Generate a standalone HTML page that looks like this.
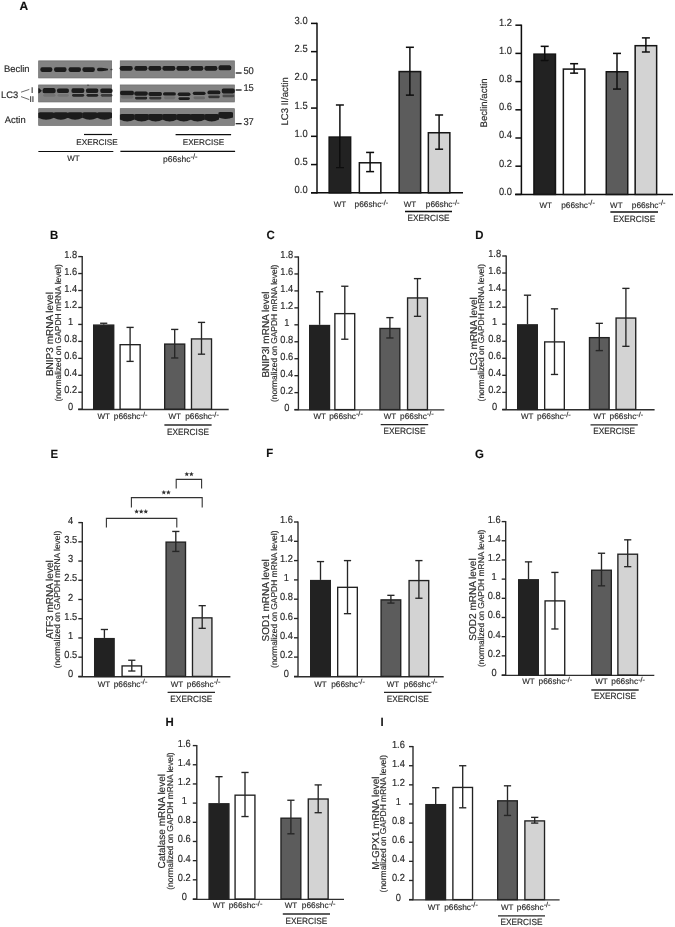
<!DOCTYPE html>
<html><head><meta charset="utf-8">
<style>
html,body{margin:0;padding:0;background:#fff;}
body{width:675px;height:927px;overflow:hidden;}
svg{display:block;}
text{font-family:"Liberation Sans", sans-serif;stroke:#333;stroke-width:0.16px;text-rendering:geometricPrecision;}
</style></head>
<body>
<svg width="675" height="927" viewBox="0 0 675 927">
<defs>
<filter id="bl" x="-10%" y="-50%" width="120%" height="200%"><feGaussianBlur stdDeviation="0.7"/></filter>
<filter id="soft"><feGaussianBlur stdDeviation="0.35"/></filter>
</defs>
<rect x="0" y="0" width="675" height="927" fill="#fff"/>
<g filter="url(#soft)">
<rect x="38.65" y="60.85" width="73" height="17.1" fill="#838383" stroke="#6c6c6c" stroke-width="0.7"/>
<rect x="120.25" y="60.85" width="114.1" height="17.1" fill="#838383" stroke="#6c6c6c" stroke-width="0.7"/>
<rect x="38.65" y="84.95" width="73" height="17" fill="#838383" stroke="#6c6c6c" stroke-width="0.7"/>
<rect x="120.25" y="84.95" width="114.1" height="17" fill="#838383" stroke="#6c6c6c" stroke-width="0.7"/>
<rect x="38.65" y="108.65" width="73" height="16.8" fill="#838383" stroke="#6c6c6c" stroke-width="0.7"/>
<rect x="120.25" y="108.65" width="114.1" height="16.8" fill="#838383" stroke="#6c6c6c" stroke-width="0.7"/>
<g filter="url(#bl)">
<rect x="40.3" y="67.3" width="12.1" height="4.6" rx="1.8" ry="2.3" fill="#1c1c1c" opacity="1"/>
<rect x="54" y="67.3" width="12.6" height="4.6" rx="1.8" ry="2.3" fill="#1c1c1c" opacity="1"/>
<rect x="68.5" y="67.3" width="12.5" height="4.6" rx="1.8" ry="2.3" fill="#1c1c1c" opacity="1"/>
<rect x="82.4" y="67.3" width="12.5" height="4.6" rx="1.8" ry="2.3" fill="#1c1c1c" opacity="1"/>
<path d="M97.0,69.5 C97.0,67.2 100,67.3 108,68.7 L108,70.3 C100,71.8 97.0,71.8 97.0,69.5 Z" fill="#1c1c1c"/>
<rect x="110.2" y="68.8" width="2.4" height="1.4" rx="0.7" ry="0.7" fill="#1c1c1c" opacity="0.6"/>
<rect x="119.7" y="65.95" width="13" height="4.7" rx="1.8" ry="2.35" fill="#1c1c1c" opacity="1"/>
<rect x="134.4" y="65.95" width="13" height="4.7" rx="1.8" ry="2.35" fill="#1c1c1c" opacity="1"/>
<rect x="148.4" y="65.95" width="13" height="4.7" rx="1.8" ry="2.35" fill="#1c1c1c" opacity="1"/>
<rect x="162.4" y="65.95" width="13" height="4.7" rx="1.8" ry="2.35" fill="#1c1c1c" opacity="1"/>
<rect x="176.4" y="65.95" width="13" height="4.7" rx="1.8" ry="2.35" fill="#1c1c1c" opacity="1"/>
<rect x="190.4" y="65.95" width="13" height="4.7" rx="1.8" ry="2.35" fill="#1c1c1c" opacity="1"/>
<rect x="204.4" y="65.95" width="13" height="4.7" rx="1.8" ry="2.35" fill="#1c1c1c" opacity="1"/>
<rect x="218.4" y="65.3" width="13" height="5" rx="1.8" ry="2.5" fill="#1c1c1c" opacity="1"/>
<path d="M38.3,88.3 L39.6,88.6 L41.8,90.8 L39.6,93 L38.3,93.3 Z" fill="#1c1c1c"/>
<rect x="42.5" y="88.1" width="13.2" height="5.2" rx="1.8" ry="2.6" fill="#1c1c1c" opacity="1"/>
<rect x="43.1" y="93.9" width="12.4" height="2.8" rx="1.4" ry="1.4" fill="#1c1c1c" opacity="0.12"/>
<rect x="56.9" y="88.5" width="12.1" height="4.4" rx="1.8" ry="2.2" fill="#1c1c1c" opacity="1"/>
<rect x="57.5" y="93.9" width="11.3" height="2.8" rx="1.4" ry="1.4" fill="#1c1c1c" opacity="0.12"/>
<rect x="71.4" y="88.3" width="13" height="4.8" rx="1.8" ry="2.4" fill="#1c1c1c" opacity="1"/>
<rect x="72" y="93.9" width="12.2" height="2.8" rx="1.4" ry="1.4" fill="#1c1c1c" opacity="0.92"/>
<rect x="85.9" y="88.4" width="12.5" height="4.6" rx="1.8" ry="2.3" fill="#1c1c1c" opacity="1"/>
<rect x="86.5" y="93.9" width="11.7" height="2.8" rx="1.4" ry="1.4" fill="#1c1c1c" opacity="0.95"/>
<rect x="100.2" y="88.4" width="12.4" height="4.6" rx="1.8" ry="2.3" fill="#1c1c1c" opacity="1"/>
<rect x="100.8" y="93.9" width="11.6" height="2.8" rx="1.4" ry="1.4" fill="#1c1c1c" opacity="0.7"/>
<rect x="87" y="84.8" width="2.2" height="0.8" rx="0.4" ry="0.4" fill="#1c1c1c" opacity="0.8"/>
<rect x="120" y="90.8" width="14" height="4.4" rx="1.8" ry="2.2" fill="#1c1c1c" opacity="1"/>
<rect x="120.8" y="95.7" width="12.6" height="2.8" rx="1.4" ry="1.4" fill="#1c1c1c" opacity="0.2"/>
<rect x="134.2" y="91.5" width="13.6" height="4.2" rx="1.8" ry="2.1" fill="#1c1c1c" opacity="1"/>
<rect x="135" y="96.7" width="12.2" height="2.8" rx="1.4" ry="1.4" fill="#1c1c1c" opacity="0.9"/>
<rect x="148.4" y="91.9" width="13.6" height="4" rx="1.8" ry="2" fill="#1c1c1c" opacity="1"/>
<rect x="149.2" y="96.7" width="12.2" height="2.8" rx="1.4" ry="1.4" fill="#1c1c1c" opacity="0.75"/>
<rect x="163" y="92.2" width="12.9" height="3.4" rx="1.7" ry="1.7" fill="#1c1c1c" opacity="1"/>
<rect x="163.8" y="96.4" width="11.5" height="2.8" rx="1.4" ry="1.4" fill="#1c1c1c" opacity="0.2"/>
<rect x="177.7" y="92.5" width="12.8" height="3.4" rx="1.7" ry="1.7" fill="#1c1c1c" opacity="1"/>
<rect x="178.5" y="97.2" width="11.4" height="2.8" rx="1.4" ry="1.4" fill="#1c1c1c" opacity="1"/>
<rect x="192.8" y="91.7" width="12.8" height="3.2" rx="1.6" ry="1.6" fill="#1c1c1c" opacity="1"/>
<rect x="193.6" y="96.4" width="11.4" height="2.8" rx="1.4" ry="1.4" fill="#1c1c1c" opacity="0.25"/>
<rect x="207.4" y="90.45" width="13" height="3.9" rx="1.8" ry="1.95" fill="#1c1c1c" opacity="1"/>
<rect x="208.2" y="95.4" width="11.6" height="2.8" rx="1.4" ry="1.4" fill="#1c1c1c" opacity="0.75"/>
<rect x="221.6" y="88.6" width="13.3" height="4.8" rx="1.8" ry="2.4" fill="#1c1c1c" opacity="1"/>
<rect x="222.4" y="94.5" width="11.9" height="2.8" rx="1.4" ry="1.4" fill="#1c1c1c" opacity="0.5"/>
<path d="M38.3,113 Q38.6,112.2 40.3,112.2 L52,112.2 Q53.7,112.2 54,113 L54,117.8 Q46.15,121.8 38.3,117.8 Z" fill="#1c1c1c"/>
<path d="M53.7,113 Q54,112.2 55.7,112.2 L66,112.2 Q67.7,112.2 68,113 L68,117.8 Q60.85,121.8 53.7,117.8 Z" fill="#1c1c1c"/>
<path d="M67.7,113 Q68,112.2 69.7,112.2 L80.6,112.2 Q82.3,112.2 82.6,113 L82.6,117.8 Q75.15,121.8 67.7,117.8 Z" fill="#1c1c1c"/>
<path d="M82.3,113 Q82.6,112.2 84.3,112.2 L95.3,112.2 Q97,112.2 97.3,113 L97.3,117.8 Q89.8,121.8 82.3,117.8 Z" fill="#1c1c1c"/>
<path d="M97,113 Q97.3,112.2 99,112.2 L110,112.2 Q111.7,112.2 112,113 L112,117.8 Q104.5,121.8 97,117.8 Z" fill="#1c1c1c"/>
<path d="M119.9,114.8 Q120.2,114 121.9,114 L132.5,114 Q134.2,114 134.5,114.8 L134.5,119.6 Q127.2,123.6 119.9,119.6 Z" fill="#1c1c1c"/>
<path d="M134.3,114.8 Q134.6,114 136.3,114 L146.9,114 Q148.6,114 148.9,114.8 L148.9,119.6 Q141.6,123.6 134.3,119.6 Z" fill="#1c1c1c"/>
<path d="M148.3,114.8 Q148.6,114 150.3,114 L160.9,114 Q162.6,114 162.9,114.8 L162.9,119.6 Q155.6,123.6 148.3,119.6 Z" fill="#1c1c1c"/>
<path d="M162.3,114.8 Q162.6,114 164.3,114 L174.9,114 Q176.6,114 176.9,114.8 L176.9,119.6 Q169.6,123.6 162.3,119.6 Z" fill="#1c1c1c"/>
<path d="M176.5,114.8 Q176.8,114 178.5,114 L189.1,114 Q190.8,114 191.1,114.8 L191.1,119.6 Q183.8,123.6 176.5,119.6 Z" fill="#1c1c1c"/>
<path d="M190.3,114.8 Q190.6,114 192.3,114 L202.9,114 Q204.6,114 204.9,114.8 L204.9,119.6 Q197.6,123.6 190.3,119.6 Z" fill="#1c1c1c"/>
<path d="M204.4,114.8 Q204.7,114 206.4,114 L217,114 Q218.7,114 219,114.8 L219,119.6 Q211.7,123.6 204.4,119.6 Z" fill="#1c1c1c"/>
<path d="M218.4,112.8 Q218.7,112 220.4,112 L231,112 Q232.7,112 233,112.8 L233,117.6 Q225.7,120.4 218.4,117.6 Z" fill="#1c1c1c"/>
</g>
<text x="4" y="72.4" font-size="9.4" text-anchor="start" font-weight="normal" fill="#262626">Beclin</text>
<text x="1" y="98" font-size="9.4" text-anchor="start" font-weight="normal" fill="#262626">LC3</text>
<text x="4.8" y="123" font-size="9.4" text-anchor="start" font-weight="normal" fill="#262626">Actin</text>
<text x="31.1" y="93" font-size="8.4" text-anchor="start" font-weight="normal" fill="#262626">I</text>
<text x="29.5" y="101.6" font-size="8.4" text-anchor="start" font-weight="normal" fill="#262626">II</text>
<line x1="21" y1="92.2" x2="29.3" y2="89.4" stroke="#444" stroke-width="0.8"/>
<line x1="21" y1="96.6" x2="29.3" y2="99.6" stroke="#444" stroke-width="0.8"/>
<line x1="235.7" y1="73" x2="241.6" y2="73" stroke="#0a0a0a" stroke-width="1.2"/>
<text transform="translate(243.4,74.4) scale(1,1.05)" font-size="9.4" text-anchor="start" font-weight="normal" fill="#262626">50</text>
<line x1="235.7" y1="90" x2="241.6" y2="90" stroke="#0a0a0a" stroke-width="1.2"/>
<text transform="translate(243.4,91.2) scale(1,1.05)" font-size="9.4" text-anchor="start" font-weight="normal" fill="#262626">15</text>
<line x1="235.7" y1="123.7" x2="241.6" y2="123.7" stroke="#0a0a0a" stroke-width="1.2"/>
<text transform="translate(243.4,124.6) scale(1,1.05)" font-size="9.4" text-anchor="start" font-weight="normal" fill="#262626">37</text>
<line x1="84" y1="134.5" x2="112" y2="134.5" stroke="#0a0a0a" stroke-width="1.2"/>
<text x="97" y="144.6" font-size="8.2" text-anchor="middle" font-weight="normal" fill="#262626">EXERCISE</text>
<line x1="175.6" y1="134.6" x2="231.1" y2="134.6" stroke="#0a0a0a" stroke-width="1.2"/>
<text x="203.4" y="144.6" font-size="8.2" text-anchor="middle" font-weight="normal" fill="#262626">EXERCISE</text>
<line x1="38.4" y1="151.5" x2="113.3" y2="151.5" stroke="#0a0a0a" stroke-width="1.2"/>
<text x="73.5" y="161.2" font-size="8" text-anchor="middle" font-weight="normal" fill="#262626">WT</text>
<line x1="120.4" y1="151.3" x2="235.1" y2="151.3" stroke="#0a0a0a" stroke-width="1.2"/>
<text x="180.3" y="161.6" font-size="8.5" text-anchor="middle" fill="#262626">p66shc<tspan font-size="7.48" dy="-2.63">-/-</tspan></text>
<line x1="317" y1="22.8" x2="317" y2="193.4" stroke="#0a0a0a" stroke-width="1.5"/>
<line x1="311" y1="192.8" x2="463" y2="192.8" stroke="#0a0a0a" stroke-width="1.5"/>
<line x1="311" y1="192.8" x2="317" y2="192.8" stroke="#0a0a0a" stroke-width="1.5"/>
<text transform="translate(301.1,193.2) scale(1,1.1)" font-size="9.4" text-anchor="middle" font-weight="normal" fill="#262626">0.0</text>
<line x1="311" y1="164.57" x2="317" y2="164.57" stroke="#0a0a0a" stroke-width="1.5"/>
<text transform="translate(301.1,164.97) scale(1,1.1)" font-size="9.4" text-anchor="middle" font-weight="normal" fill="#262626">0.5</text>
<line x1="311" y1="136.33" x2="317" y2="136.33" stroke="#0a0a0a" stroke-width="1.5"/>
<text transform="translate(301.1,136.73) scale(1,1.1)" font-size="9.4" text-anchor="middle" font-weight="normal" fill="#262626">1.0</text>
<line x1="311" y1="108.1" x2="317" y2="108.1" stroke="#0a0a0a" stroke-width="1.5"/>
<text transform="translate(301.1,108.5) scale(1,1.1)" font-size="9.4" text-anchor="middle" font-weight="normal" fill="#262626">1.5</text>
<line x1="311" y1="79.87" x2="317" y2="79.87" stroke="#0a0a0a" stroke-width="1.5"/>
<text transform="translate(301.1,80.27) scale(1,1.1)" font-size="9.4" text-anchor="middle" font-weight="normal" fill="#262626">2.0</text>
<line x1="311" y1="51.63" x2="317" y2="51.63" stroke="#0a0a0a" stroke-width="1.5"/>
<text transform="translate(301.1,52.03) scale(1,1.1)" font-size="9.4" text-anchor="middle" font-weight="normal" fill="#262626">2.5</text>
<line x1="311" y1="23.4" x2="317" y2="23.4" stroke="#0a0a0a" stroke-width="1.5"/>
<text transform="translate(301.1,23.8) scale(1,1.1)" font-size="9.4" text-anchor="middle" font-weight="normal" fill="#262626">3.0</text>
<rect x="329.15" y="137.08" width="21.5" height="55.72" fill="#242424" stroke="#121212" stroke-width="1.5"/>
<rect x="359.35" y="162.78" width="21.5" height="30.02" fill="#ffffff" stroke="#121212" stroke-width="1.5"/>
<rect x="399.15" y="71.58" width="21.5" height="121.22" fill="#5b5b5b" stroke="#121212" stroke-width="1.5"/>
<rect x="428.35" y="132.74" width="21.5" height="60.06" fill="#d3d3d3" stroke="#121212" stroke-width="1.5"/>
<line x1="339.9" y1="104.99" x2="339.9" y2="167.62" stroke="#0e0e0e" stroke-width="1.5"/>
<line x1="335.9" y1="104.99" x2="343.9" y2="104.99" stroke="#0e0e0e" stroke-width="1.5"/>
<line x1="335.9" y1="167.62" x2="343.9" y2="167.62" stroke="#0e0e0e" stroke-width="1.5"/>
<line x1="370.1" y1="152.43" x2="370.1" y2="171.62" stroke="#0e0e0e" stroke-width="1.5"/>
<line x1="366.1" y1="152.43" x2="374.1" y2="152.43" stroke="#0e0e0e" stroke-width="1.5"/>
<line x1="366.1" y1="171.62" x2="374.1" y2="171.62" stroke="#0e0e0e" stroke-width="1.5"/>
<line x1="409.9" y1="47.29" x2="409.9" y2="95.11" stroke="#0e0e0e" stroke-width="1.5"/>
<line x1="405.9" y1="47.29" x2="413.9" y2="47.29" stroke="#0e0e0e" stroke-width="1.5"/>
<line x1="405.9" y1="95.11" x2="413.9" y2="95.11" stroke="#0e0e0e" stroke-width="1.5"/>
<line x1="439.1" y1="114.99" x2="439.1" y2="149.21" stroke="#0e0e0e" stroke-width="1.5"/>
<line x1="435.1" y1="114.99" x2="443.1" y2="114.99" stroke="#0e0e0e" stroke-width="1.5"/>
<line x1="435.1" y1="149.21" x2="443.1" y2="149.21" stroke="#0e0e0e" stroke-width="1.5"/>
<text x="339.9" y="207.4" font-size="8" text-anchor="middle" font-weight="normal" fill="#262626">WT</text>
<text x="371.4" y="207.4" font-size="8.3" text-anchor="middle" fill="#262626">p66shc<tspan font-size="7.3" dy="-2.57">-/-</tspan></text>
<text x="409.9" y="207.4" font-size="8" text-anchor="middle" font-weight="normal" fill="#262626">WT</text>
<text x="442.6" y="207.4" font-size="8.3" text-anchor="middle" fill="#262626">p66shc<tspan font-size="7.3" dy="-2.57">-/-</tspan></text>
<line x1="405" y1="211.4" x2="452" y2="211.4" stroke="#0a0a0a" stroke-width="1.5"/>
<text transform="translate(428.5,221.2) scale(1,1.08)" font-size="8.3" text-anchor="middle" font-weight="normal" fill="#262626">EXERCISE</text>
<line x1="521.4" y1="24.6" x2="521.4" y2="195" stroke="#0a0a0a" stroke-width="1.5"/>
<line x1="515" y1="194.4" x2="673" y2="194.4" stroke="#0a0a0a" stroke-width="1.5"/>
<line x1="515.4" y1="194.4" x2="521.4" y2="194.4" stroke="#0a0a0a" stroke-width="1.5"/>
<text transform="translate(505.4,194.8) scale(1,1.1)" font-size="9.4" text-anchor="middle" font-weight="normal" fill="#262626">0.0</text>
<line x1="515.4" y1="166.2" x2="521.4" y2="166.2" stroke="#0a0a0a" stroke-width="1.5"/>
<text transform="translate(505.4,166.6) scale(1,1.1)" font-size="9.4" text-anchor="middle" font-weight="normal" fill="#262626">0.2</text>
<line x1="515.4" y1="138" x2="521.4" y2="138" stroke="#0a0a0a" stroke-width="1.5"/>
<text transform="translate(505.4,138.4) scale(1,1.1)" font-size="9.4" text-anchor="middle" font-weight="normal" fill="#262626">0.4</text>
<line x1="515.4" y1="109.8" x2="521.4" y2="109.8" stroke="#0a0a0a" stroke-width="1.5"/>
<text transform="translate(505.4,110.2) scale(1,1.1)" font-size="9.4" text-anchor="middle" font-weight="normal" fill="#262626">0.6</text>
<line x1="515.4" y1="81.6" x2="521.4" y2="81.6" stroke="#0a0a0a" stroke-width="1.5"/>
<text transform="translate(505.4,82) scale(1,1.1)" font-size="9.4" text-anchor="middle" font-weight="normal" fill="#262626">0.8</text>
<line x1="515.4" y1="53.4" x2="521.4" y2="53.4" stroke="#0a0a0a" stroke-width="1.5"/>
<text transform="translate(505.4,53.8) scale(1,1.1)" font-size="9.4" text-anchor="middle" font-weight="normal" fill="#262626">1.0</text>
<line x1="515.4" y1="25.2" x2="521.4" y2="25.2" stroke="#0a0a0a" stroke-width="1.5"/>
<text transform="translate(505.4,25.6) scale(1,1.1)" font-size="9.4" text-anchor="middle" font-weight="normal" fill="#262626">1.2</text>
<rect x="533.95" y="54.15" width="21.5" height="140.25" fill="#242424" stroke="#121212" stroke-width="1.5"/>
<rect x="563.35" y="69.1" width="21.5" height="125.3" fill="#ffffff" stroke="#121212" stroke-width="1.5"/>
<rect x="606.25" y="71.78" width="21.5" height="122.62" fill="#5b5b5b" stroke="#121212" stroke-width="1.5"/>
<rect x="635.15" y="45.69" width="21.5" height="148.71" fill="#d3d3d3" stroke="#121212" stroke-width="1.5"/>
<line x1="544.7" y1="46.35" x2="544.7" y2="60.45" stroke="#0e0e0e" stroke-width="1.5"/>
<line x1="540.7" y1="46.35" x2="548.7" y2="46.35" stroke="#0e0e0e" stroke-width="1.5"/>
<line x1="540.7" y1="60.45" x2="548.7" y2="60.45" stroke="#0e0e0e" stroke-width="1.5"/>
<line x1="574.1" y1="63.69" x2="574.1" y2="73.14" stroke="#0e0e0e" stroke-width="1.5"/>
<line x1="570.1" y1="63.69" x2="578.1" y2="63.69" stroke="#0e0e0e" stroke-width="1.5"/>
<line x1="570.1" y1="73.14" x2="578.1" y2="73.14" stroke="#0e0e0e" stroke-width="1.5"/>
<line x1="617" y1="53.4" x2="617" y2="89.07" stroke="#0e0e0e" stroke-width="1.5"/>
<line x1="613" y1="53.4" x2="621" y2="53.4" stroke="#0e0e0e" stroke-width="1.5"/>
<line x1="613" y1="89.07" x2="621" y2="89.07" stroke="#0e0e0e" stroke-width="1.5"/>
<line x1="645.9" y1="37.89" x2="645.9" y2="51.99" stroke="#0e0e0e" stroke-width="1.5"/>
<line x1="641.9" y1="37.89" x2="649.9" y2="37.89" stroke="#0e0e0e" stroke-width="1.5"/>
<line x1="641.9" y1="51.99" x2="649.9" y2="51.99" stroke="#0e0e0e" stroke-width="1.5"/>
<text x="545.6" y="208" font-size="8" text-anchor="middle" font-weight="normal" fill="#262626">WT</text>
<text x="578" y="208" font-size="8.3" text-anchor="middle" fill="#262626">p66shc<tspan font-size="7.3" dy="-2.57">-/-</tspan></text>
<text x="616.3" y="208" font-size="8" text-anchor="middle" font-weight="normal" fill="#262626">WT</text>
<text x="648.6" y="208" font-size="8.3" text-anchor="middle" fill="#262626">p66shc<tspan font-size="7.3" dy="-2.57">-/-</tspan></text>
<line x1="610.4" y1="212" x2="658" y2="212" stroke="#0a0a0a" stroke-width="1.5"/>
<text transform="translate(634.2,221.6) scale(1,1.08)" font-size="8.3" text-anchor="middle" font-weight="normal" fill="#262626">EXERCISE</text>
<line x1="82.2" y1="256" x2="82.2" y2="409.8" stroke="#262626" stroke-width="1.35"/>
<line x1="78.2" y1="409.5" x2="228.7" y2="409.5" stroke="#2e2e2e" stroke-width="1.35"/>
<line x1="78.2" y1="409.2" x2="82.2" y2="409.2" stroke="#262626" stroke-width="1.35"/>
<text transform="translate(70.6,410.2) scale(1,1.1)" font-size="9.3" text-anchor="middle" font-weight="normal" fill="#262626">0</text>
<line x1="78.2" y1="392.24" x2="82.2" y2="392.24" stroke="#262626" stroke-width="1.35"/>
<text transform="translate(70.6,393.24) scale(1,1.1)" font-size="9.3" text-anchor="middle" font-weight="normal" fill="#262626">0.2</text>
<line x1="78.2" y1="375.29" x2="82.2" y2="375.29" stroke="#262626" stroke-width="1.35"/>
<text transform="translate(70.6,376.29) scale(1,1.1)" font-size="9.3" text-anchor="middle" font-weight="normal" fill="#262626">0.4</text>
<line x1="78.2" y1="358.33" x2="82.2" y2="358.33" stroke="#262626" stroke-width="1.35"/>
<text transform="translate(70.6,359.33) scale(1,1.1)" font-size="9.3" text-anchor="middle" font-weight="normal" fill="#262626">0.6</text>
<line x1="78.2" y1="341.38" x2="82.2" y2="341.38" stroke="#262626" stroke-width="1.35"/>
<text transform="translate(70.6,342.38) scale(1,1.1)" font-size="9.3" text-anchor="middle" font-weight="normal" fill="#262626">0.8</text>
<line x1="78.2" y1="324.42" x2="82.2" y2="324.42" stroke="#262626" stroke-width="1.35"/>
<text transform="translate(70.6,325.42) scale(1,1.1)" font-size="9.3" text-anchor="middle" font-weight="normal" fill="#262626">1</text>
<line x1="78.2" y1="307.47" x2="82.2" y2="307.47" stroke="#262626" stroke-width="1.35"/>
<text transform="translate(70.6,308.47) scale(1,1.1)" font-size="9.3" text-anchor="middle" font-weight="normal" fill="#262626">1.2</text>
<line x1="78.2" y1="290.51" x2="82.2" y2="290.51" stroke="#262626" stroke-width="1.35"/>
<text transform="translate(70.6,291.51) scale(1,1.1)" font-size="9.3" text-anchor="middle" font-weight="normal" fill="#262626">1.4</text>
<line x1="78.2" y1="273.56" x2="82.2" y2="273.56" stroke="#262626" stroke-width="1.35"/>
<text transform="translate(70.6,274.56) scale(1,1.1)" font-size="9.3" text-anchor="middle" font-weight="normal" fill="#262626">1.6</text>
<line x1="78.2" y1="256.6" x2="82.2" y2="256.6" stroke="#262626" stroke-width="1.35"/>
<text transform="translate(70.6,257.6) scale(1,1.1)" font-size="9.3" text-anchor="middle" font-weight="normal" fill="#262626">1.8</text>
<rect x="93.67" y="325.1" width="20.05" height="84.1" fill="#242424" stroke="#202020" stroke-width="1.35"/>
<rect x="120.08" y="344.68" width="20.05" height="64.52" fill="#ffffff" stroke="#202020" stroke-width="1.35"/>
<rect x="164.68" y="344.09" width="20.05" height="65.11" fill="#5b5b5b" stroke="#202020" stroke-width="1.35"/>
<rect x="191.48" y="338.92" width="20.05" height="70.28" fill="#d3d3d3" stroke="#202020" stroke-width="1.35"/>
<line x1="103.7" y1="323.24" x2="103.7" y2="324.42" stroke="#262626" stroke-width="1.35"/>
<line x1="100.1" y1="323.24" x2="107.3" y2="323.24" stroke="#262626" stroke-width="1.35"/>
<line x1="130.1" y1="327.39" x2="130.1" y2="361.39" stroke="#262626" stroke-width="1.35"/>
<line x1="126.5" y1="327.39" x2="133.7" y2="327.39" stroke="#262626" stroke-width="1.35"/>
<line x1="126.5" y1="361.39" x2="133.7" y2="361.39" stroke="#262626" stroke-width="1.35"/>
<line x1="174.7" y1="329.42" x2="174.7" y2="357.99" stroke="#262626" stroke-width="1.35"/>
<line x1="171.1" y1="329.42" x2="178.3" y2="329.42" stroke="#262626" stroke-width="1.35"/>
<line x1="171.1" y1="357.99" x2="178.3" y2="357.99" stroke="#262626" stroke-width="1.35"/>
<line x1="201.5" y1="322.39" x2="201.5" y2="354.18" stroke="#262626" stroke-width="1.35"/>
<line x1="197.9" y1="322.39" x2="205.1" y2="322.39" stroke="#262626" stroke-width="1.35"/>
<line x1="197.9" y1="354.18" x2="205.1" y2="354.18" stroke="#262626" stroke-width="1.35"/>
<text x="103.7" y="419.4" font-size="8" text-anchor="middle" font-weight="normal" fill="#262626">WT</text>
<text x="130.6" y="419.4" font-size="8.3" text-anchor="middle" fill="#262626">p66shc<tspan font-size="7.3" dy="-2.57">-/-</tspan></text>
<text x="174.7" y="419.4" font-size="8" text-anchor="middle" font-weight="normal" fill="#262626">WT</text>
<text x="202" y="419.4" font-size="8.3" text-anchor="middle" fill="#262626">p66shc<tspan font-size="7.3" dy="-2.57">-/-</tspan></text>
<line x1="164.4" y1="425" x2="211.6" y2="425" stroke="#262626" stroke-width="1.35"/>
<text transform="translate(188,434.6) scale(1,1.08)" font-size="8.3" text-anchor="middle" font-weight="normal" fill="#262626">EXERCISE</text>
<line x1="298.4" y1="256.4" x2="298.4" y2="410.2" stroke="#262626" stroke-width="1.35"/>
<line x1="294.4" y1="409.9" x2="444.3" y2="409.9" stroke="#2e2e2e" stroke-width="1.35"/>
<line x1="294.4" y1="409.6" x2="298.4" y2="409.6" stroke="#262626" stroke-width="1.35"/>
<text transform="translate(286.8,410.6) scale(1,1.1)" font-size="9.3" text-anchor="middle" font-weight="normal" fill="#262626">0</text>
<line x1="294.4" y1="392.64" x2="298.4" y2="392.64" stroke="#262626" stroke-width="1.35"/>
<text transform="translate(286.8,393.64) scale(1,1.1)" font-size="9.3" text-anchor="middle" font-weight="normal" fill="#262626">0.2</text>
<line x1="294.4" y1="375.69" x2="298.4" y2="375.69" stroke="#262626" stroke-width="1.35"/>
<text transform="translate(286.8,376.69) scale(1,1.1)" font-size="9.3" text-anchor="middle" font-weight="normal" fill="#262626">0.4</text>
<line x1="294.4" y1="358.73" x2="298.4" y2="358.73" stroke="#262626" stroke-width="1.35"/>
<text transform="translate(286.8,359.73) scale(1,1.1)" font-size="9.3" text-anchor="middle" font-weight="normal" fill="#262626">0.6</text>
<line x1="294.4" y1="341.78" x2="298.4" y2="341.78" stroke="#262626" stroke-width="1.35"/>
<text transform="translate(286.8,342.78) scale(1,1.1)" font-size="9.3" text-anchor="middle" font-weight="normal" fill="#262626">0.8</text>
<line x1="294.4" y1="324.82" x2="298.4" y2="324.82" stroke="#262626" stroke-width="1.35"/>
<text transform="translate(286.8,325.82) scale(1,1.1)" font-size="9.3" text-anchor="middle" font-weight="normal" fill="#262626">1</text>
<line x1="294.4" y1="307.87" x2="298.4" y2="307.87" stroke="#262626" stroke-width="1.35"/>
<text transform="translate(286.8,308.87) scale(1,1.1)" font-size="9.3" text-anchor="middle" font-weight="normal" fill="#262626">1.2</text>
<line x1="294.4" y1="290.91" x2="298.4" y2="290.91" stroke="#262626" stroke-width="1.35"/>
<text transform="translate(286.8,291.91) scale(1,1.1)" font-size="9.3" text-anchor="middle" font-weight="normal" fill="#262626">1.4</text>
<line x1="294.4" y1="273.96" x2="298.4" y2="273.96" stroke="#262626" stroke-width="1.35"/>
<text transform="translate(286.8,274.96) scale(1,1.1)" font-size="9.3" text-anchor="middle" font-weight="normal" fill="#262626">1.6</text>
<line x1="294.4" y1="257" x2="298.4" y2="257" stroke="#262626" stroke-width="1.35"/>
<text transform="translate(286.8,258) scale(1,1.1)" font-size="9.3" text-anchor="middle" font-weight="normal" fill="#262626">1.8</text>
<rect x="309.68" y="325.5" width="19.85" height="84.1" fill="#242424" stroke="#202020" stroke-width="1.35"/>
<rect x="334.88" y="313.63" width="19.85" height="95.97" fill="#ffffff" stroke="#202020" stroke-width="1.35"/>
<rect x="379.98" y="328.46" width="19.85" height="81.14" fill="#5b5b5b" stroke="#202020" stroke-width="1.35"/>
<rect x="407.57" y="297.94" width="19.85" height="111.66" fill="#d3d3d3" stroke="#202020" stroke-width="1.35"/>
<line x1="319.6" y1="291.76" x2="319.6" y2="324.82" stroke="#262626" stroke-width="1.35"/>
<line x1="316" y1="291.76" x2="323.2" y2="291.76" stroke="#262626" stroke-width="1.35"/>
<line x1="344.8" y1="286.25" x2="344.8" y2="339.23" stroke="#262626" stroke-width="1.35"/>
<line x1="341.2" y1="286.25" x2="348.4" y2="286.25" stroke="#262626" stroke-width="1.35"/>
<line x1="341.2" y1="339.23" x2="348.4" y2="339.23" stroke="#262626" stroke-width="1.35"/>
<line x1="389.9" y1="317.62" x2="389.9" y2="337.96" stroke="#262626" stroke-width="1.35"/>
<line x1="386.3" y1="317.62" x2="393.5" y2="317.62" stroke="#262626" stroke-width="1.35"/>
<line x1="386.3" y1="337.96" x2="393.5" y2="337.96" stroke="#262626" stroke-width="1.35"/>
<line x1="417.5" y1="278.62" x2="417.5" y2="316.34" stroke="#262626" stroke-width="1.35"/>
<line x1="413.9" y1="278.62" x2="421.1" y2="278.62" stroke="#262626" stroke-width="1.35"/>
<line x1="413.9" y1="316.34" x2="421.1" y2="316.34" stroke="#262626" stroke-width="1.35"/>
<text x="319.6" y="418.8" font-size="8" text-anchor="middle" font-weight="normal" fill="#262626">WT</text>
<text x="346" y="418.8" font-size="8.3" text-anchor="middle" fill="#262626">p66shc<tspan font-size="7.3" dy="-2.57">-/-</tspan></text>
<text x="389.9" y="418.8" font-size="8" text-anchor="middle" font-weight="normal" fill="#262626">WT</text>
<text x="416.9" y="418.8" font-size="8.3" text-anchor="middle" fill="#262626">p66shc<tspan font-size="7.3" dy="-2.57">-/-</tspan></text>
<line x1="380.7" y1="424.6" x2="428.2" y2="424.6" stroke="#262626" stroke-width="1.35"/>
<text transform="translate(404.45,434.4) scale(1,1.08)" font-size="8.3" text-anchor="middle" font-weight="normal" fill="#262626">EXERCISE</text>
<line x1="506.2" y1="255.4" x2="506.2" y2="410" stroke="#262626" stroke-width="1.35"/>
<line x1="502.2" y1="409.7" x2="654.6" y2="409.7" stroke="#2e2e2e" stroke-width="1.35"/>
<line x1="502.2" y1="409.4" x2="506.2" y2="409.4" stroke="#262626" stroke-width="1.35"/>
<text transform="translate(494.6,410.4) scale(1,1.1)" font-size="9.3" text-anchor="middle" font-weight="normal" fill="#262626">0</text>
<line x1="502.2" y1="392.36" x2="506.2" y2="392.36" stroke="#262626" stroke-width="1.35"/>
<text transform="translate(494.6,393.36) scale(1,1.1)" font-size="9.3" text-anchor="middle" font-weight="normal" fill="#262626">0.2</text>
<line x1="502.2" y1="375.31" x2="506.2" y2="375.31" stroke="#262626" stroke-width="1.35"/>
<text transform="translate(494.6,376.31) scale(1,1.1)" font-size="9.3" text-anchor="middle" font-weight="normal" fill="#262626">0.4</text>
<line x1="502.2" y1="358.27" x2="506.2" y2="358.27" stroke="#262626" stroke-width="1.35"/>
<text transform="translate(494.6,359.27) scale(1,1.1)" font-size="9.3" text-anchor="middle" font-weight="normal" fill="#262626">0.6</text>
<line x1="502.2" y1="341.22" x2="506.2" y2="341.22" stroke="#262626" stroke-width="1.35"/>
<text transform="translate(494.6,342.22) scale(1,1.1)" font-size="9.3" text-anchor="middle" font-weight="normal" fill="#262626">0.8</text>
<line x1="502.2" y1="324.18" x2="506.2" y2="324.18" stroke="#262626" stroke-width="1.35"/>
<text transform="translate(494.6,325.18) scale(1,1.1)" font-size="9.3" text-anchor="middle" font-weight="normal" fill="#262626">1</text>
<line x1="502.2" y1="307.13" x2="506.2" y2="307.13" stroke="#262626" stroke-width="1.35"/>
<text transform="translate(494.6,308.13) scale(1,1.1)" font-size="9.3" text-anchor="middle" font-weight="normal" fill="#262626">1.2</text>
<line x1="502.2" y1="290.09" x2="506.2" y2="290.09" stroke="#262626" stroke-width="1.35"/>
<text transform="translate(494.6,291.09) scale(1,1.1)" font-size="9.3" text-anchor="middle" font-weight="normal" fill="#262626">1.4</text>
<line x1="502.2" y1="273.04" x2="506.2" y2="273.04" stroke="#262626" stroke-width="1.35"/>
<text transform="translate(494.6,274.04) scale(1,1.1)" font-size="9.3" text-anchor="middle" font-weight="normal" fill="#262626">1.6</text>
<line x1="502.2" y1="256" x2="506.2" y2="256" stroke="#262626" stroke-width="1.35"/>
<text transform="translate(494.6,257) scale(1,1.1)" font-size="9.3" text-anchor="middle" font-weight="normal" fill="#262626">1.8</text>
<rect x="517.67" y="324.85" width="19.65" height="84.55" fill="#242424" stroke="#202020" stroke-width="1.35"/>
<rect x="544.67" y="341.9" width="19.65" height="67.5" fill="#ffffff" stroke="#202020" stroke-width="1.35"/>
<rect x="589.47" y="337.64" width="19.65" height="71.76" fill="#5b5b5b" stroke="#202020" stroke-width="1.35"/>
<rect x="616.07" y="318.04" width="19.65" height="91.36" fill="#d3d3d3" stroke="#202020" stroke-width="1.35"/>
<line x1="527.5" y1="295.2" x2="527.5" y2="324.18" stroke="#262626" stroke-width="1.35"/>
<line x1="523.9" y1="295.2" x2="531.1" y2="295.2" stroke="#262626" stroke-width="1.35"/>
<line x1="554.5" y1="308.84" x2="554.5" y2="374.46" stroke="#262626" stroke-width="1.35"/>
<line x1="550.9" y1="308.84" x2="558.1" y2="308.84" stroke="#262626" stroke-width="1.35"/>
<line x1="550.9" y1="374.46" x2="558.1" y2="374.46" stroke="#262626" stroke-width="1.35"/>
<line x1="599.3" y1="323.33" x2="599.3" y2="350.6" stroke="#262626" stroke-width="1.35"/>
<line x1="595.7" y1="323.33" x2="602.9" y2="323.33" stroke="#262626" stroke-width="1.35"/>
<line x1="595.7" y1="350.6" x2="602.9" y2="350.6" stroke="#262626" stroke-width="1.35"/>
<line x1="625.9" y1="288.38" x2="625.9" y2="346.34" stroke="#262626" stroke-width="1.35"/>
<line x1="622.3" y1="288.38" x2="629.5" y2="288.38" stroke="#262626" stroke-width="1.35"/>
<line x1="622.3" y1="346.34" x2="629.5" y2="346.34" stroke="#262626" stroke-width="1.35"/>
<text x="527.2" y="419.4" font-size="8" text-anchor="middle" font-weight="normal" fill="#262626">WT</text>
<text x="553.9" y="419.4" font-size="8.3" text-anchor="middle" fill="#262626">p66shc<tspan font-size="7.3" dy="-2.57">-/-</tspan></text>
<text x="599.6" y="419.4" font-size="8" text-anchor="middle" font-weight="normal" fill="#262626">WT</text>
<text x="626.4" y="419.4" font-size="8.3" text-anchor="middle" fill="#262626">p66shc<tspan font-size="7.3" dy="-2.57">-/-</tspan></text>
<line x1="590.5" y1="424.8" x2="637.8" y2="424.8" stroke="#262626" stroke-width="1.35"/>
<text transform="translate(614.15,434.2) scale(1,1.08)" font-size="8.3" text-anchor="middle" font-weight="normal" fill="#262626">EXERCISE</text>
<line x1="82.3" y1="522" x2="82.3" y2="677" stroke="#262626" stroke-width="1.35"/>
<line x1="78.3" y1="676.7" x2="230.4" y2="676.7" stroke="#2e2e2e" stroke-width="1.35"/>
<line x1="78.3" y1="676.4" x2="82.3" y2="676.4" stroke="#262626" stroke-width="1.35"/>
<text transform="translate(70.7,677.4) scale(1,1.1)" font-size="9.3" text-anchor="middle" font-weight="normal" fill="#262626">0</text>
<line x1="78.3" y1="657.17" x2="82.3" y2="657.17" stroke="#262626" stroke-width="1.35"/>
<text transform="translate(70.7,658.17) scale(1,1.1)" font-size="9.3" text-anchor="middle" font-weight="normal" fill="#262626">0.5</text>
<line x1="78.3" y1="637.95" x2="82.3" y2="637.95" stroke="#262626" stroke-width="1.35"/>
<text transform="translate(70.7,638.95) scale(1,1.1)" font-size="9.3" text-anchor="middle" font-weight="normal" fill="#262626">1</text>
<line x1="78.3" y1="618.73" x2="82.3" y2="618.73" stroke="#262626" stroke-width="1.35"/>
<text transform="translate(70.7,619.73) scale(1,1.1)" font-size="9.3" text-anchor="middle" font-weight="normal" fill="#262626">1.5</text>
<line x1="78.3" y1="599.5" x2="82.3" y2="599.5" stroke="#262626" stroke-width="1.35"/>
<text transform="translate(70.7,600.5) scale(1,1.1)" font-size="9.3" text-anchor="middle" font-weight="normal" fill="#262626">2</text>
<line x1="78.3" y1="580.27" x2="82.3" y2="580.27" stroke="#262626" stroke-width="1.35"/>
<text transform="translate(70.7,581.27) scale(1,1.1)" font-size="9.3" text-anchor="middle" font-weight="normal" fill="#262626">2.5</text>
<line x1="78.3" y1="561.05" x2="82.3" y2="561.05" stroke="#262626" stroke-width="1.35"/>
<text transform="translate(70.7,562.05) scale(1,1.1)" font-size="9.3" text-anchor="middle" font-weight="normal" fill="#262626">3</text>
<line x1="78.3" y1="541.83" x2="82.3" y2="541.83" stroke="#262626" stroke-width="1.35"/>
<text transform="translate(70.7,542.83) scale(1,1.1)" font-size="9.3" text-anchor="middle" font-weight="normal" fill="#262626">3.5</text>
<line x1="78.3" y1="522.6" x2="82.3" y2="522.6" stroke="#262626" stroke-width="1.35"/>
<text transform="translate(70.7,523.6) scale(1,1.1)" font-size="9.3" text-anchor="middle" font-weight="normal" fill="#262626">4</text>
<rect x="94.67" y="638.62" width="19.45" height="37.77" fill="#242424" stroke="#202020" stroke-width="1.35"/>
<rect x="122.08" y="665.92" width="19.45" height="10.48" fill="#ffffff" stroke="#202020" stroke-width="1.35"/>
<rect x="166.08" y="542.12" width="19.45" height="134.28" fill="#5b5b5b" stroke="#202020" stroke-width="1.35"/>
<rect x="192.48" y="617.86" width="19.45" height="58.54" fill="#d3d3d3" stroke="#202020" stroke-width="1.35"/>
<line x1="104.4" y1="629.49" x2="104.4" y2="637.95" stroke="#262626" stroke-width="1.35"/>
<line x1="100.8" y1="629.49" x2="108" y2="629.49" stroke="#262626" stroke-width="1.35"/>
<line x1="131.8" y1="660.25" x2="131.8" y2="671.02" stroke="#262626" stroke-width="1.35"/>
<line x1="128.2" y1="660.25" x2="135.4" y2="660.25" stroke="#262626" stroke-width="1.35"/>
<line x1="128.2" y1="671.02" x2="135.4" y2="671.02" stroke="#262626" stroke-width="1.35"/>
<line x1="175.8" y1="531.44" x2="175.8" y2="551.44" stroke="#262626" stroke-width="1.35"/>
<line x1="172.2" y1="531.44" x2="179.4" y2="531.44" stroke="#262626" stroke-width="1.35"/>
<line x1="172.2" y1="551.44" x2="179.4" y2="551.44" stroke="#262626" stroke-width="1.35"/>
<line x1="202.2" y1="605.65" x2="202.2" y2="628.34" stroke="#262626" stroke-width="1.35"/>
<line x1="198.6" y1="605.65" x2="205.8" y2="605.65" stroke="#262626" stroke-width="1.35"/>
<line x1="198.6" y1="628.34" x2="205.8" y2="628.34" stroke="#262626" stroke-width="1.35"/>
<text x="104" y="687" font-size="8" text-anchor="middle" font-weight="normal" fill="#262626">WT</text>
<text x="130.5" y="687" font-size="8.3" text-anchor="middle" fill="#262626">p66shc<tspan font-size="7.3" dy="-2.57">-/-</tspan></text>
<text x="177" y="687" font-size="8" text-anchor="middle" font-weight="normal" fill="#262626">WT</text>
<text x="203.7" y="687" font-size="8.3" text-anchor="middle" fill="#262626">p66shc<tspan font-size="7.3" dy="-2.57">-/-</tspan></text>
<line x1="167.6" y1="692.4" x2="215" y2="692.4" stroke="#262626" stroke-width="1.35"/>
<text transform="translate(191.3,702) scale(1,1.08)" font-size="8.3" text-anchor="middle" font-weight="normal" fill="#262626">EXERCISE</text>
<line x1="298" y1="521.4" x2="298" y2="677" stroke="#262626" stroke-width="1.35"/>
<line x1="294" y1="676.7" x2="443.7" y2="676.7" stroke="#2e2e2e" stroke-width="1.35"/>
<line x1="294" y1="676.4" x2="298" y2="676.4" stroke="#262626" stroke-width="1.35"/>
<text transform="translate(286.4,677.4) scale(1,1.1)" font-size="9.3" text-anchor="middle" font-weight="normal" fill="#262626">0</text>
<line x1="294" y1="657.1" x2="298" y2="657.1" stroke="#262626" stroke-width="1.35"/>
<text transform="translate(286.4,658.1) scale(1,1.1)" font-size="9.3" text-anchor="middle" font-weight="normal" fill="#262626">0.2</text>
<line x1="294" y1="637.8" x2="298" y2="637.8" stroke="#262626" stroke-width="1.35"/>
<text transform="translate(286.4,638.8) scale(1,1.1)" font-size="9.3" text-anchor="middle" font-weight="normal" fill="#262626">0.4</text>
<line x1="294" y1="618.5" x2="298" y2="618.5" stroke="#262626" stroke-width="1.35"/>
<text transform="translate(286.4,619.5) scale(1,1.1)" font-size="9.3" text-anchor="middle" font-weight="normal" fill="#262626">0.6</text>
<line x1="294" y1="599.2" x2="298" y2="599.2" stroke="#262626" stroke-width="1.35"/>
<text transform="translate(286.4,600.2) scale(1,1.1)" font-size="9.3" text-anchor="middle" font-weight="normal" fill="#262626">0.8</text>
<line x1="294" y1="579.9" x2="298" y2="579.9" stroke="#262626" stroke-width="1.35"/>
<text transform="translate(286.4,580.9) scale(1,1.1)" font-size="9.3" text-anchor="middle" font-weight="normal" fill="#262626">1</text>
<line x1="294" y1="560.6" x2="298" y2="560.6" stroke="#262626" stroke-width="1.35"/>
<text transform="translate(286.4,561.6) scale(1,1.1)" font-size="9.3" text-anchor="middle" font-weight="normal" fill="#262626">1.2</text>
<line x1="294" y1="541.3" x2="298" y2="541.3" stroke="#262626" stroke-width="1.35"/>
<text transform="translate(286.4,542.3) scale(1,1.1)" font-size="9.3" text-anchor="middle" font-weight="normal" fill="#262626">1.4</text>
<line x1="294" y1="522" x2="298" y2="522" stroke="#262626" stroke-width="1.35"/>
<text transform="translate(286.4,523) scale(1,1.1)" font-size="9.3" text-anchor="middle" font-weight="normal" fill="#262626">1.6</text>
<rect x="310.68" y="580.57" width="19.65" height="95.83" fill="#242424" stroke="#202020" stroke-width="1.35"/>
<rect x="337.68" y="587.33" width="19.65" height="89.07" fill="#ffffff" stroke="#202020" stroke-width="1.35"/>
<rect x="381.07" y="599.88" width="19.65" height="76.52" fill="#5b5b5b" stroke="#202020" stroke-width="1.35"/>
<rect x="409.07" y="580.57" width="19.65" height="95.83" fill="#d3d3d3" stroke="#202020" stroke-width="1.35"/>
<line x1="320.5" y1="561.57" x2="320.5" y2="579.9" stroke="#262626" stroke-width="1.35"/>
<line x1="316.9" y1="561.57" x2="324.1" y2="561.57" stroke="#262626" stroke-width="1.35"/>
<line x1="347.5" y1="560.6" x2="347.5" y2="613.67" stroke="#262626" stroke-width="1.35"/>
<line x1="343.9" y1="560.6" x2="351.1" y2="560.6" stroke="#262626" stroke-width="1.35"/>
<line x1="343.9" y1="613.67" x2="351.1" y2="613.67" stroke="#262626" stroke-width="1.35"/>
<line x1="390.9" y1="595.34" x2="390.9" y2="603.06" stroke="#262626" stroke-width="1.35"/>
<line x1="387.3" y1="595.34" x2="394.5" y2="595.34" stroke="#262626" stroke-width="1.35"/>
<line x1="387.3" y1="603.06" x2="394.5" y2="603.06" stroke="#262626" stroke-width="1.35"/>
<line x1="418.9" y1="560.6" x2="418.9" y2="598.24" stroke="#262626" stroke-width="1.35"/>
<line x1="415.3" y1="560.6" x2="422.5" y2="560.6" stroke="#262626" stroke-width="1.35"/>
<line x1="415.3" y1="598.24" x2="422.5" y2="598.24" stroke="#262626" stroke-width="1.35"/>
<text x="320.5" y="687" font-size="8" text-anchor="middle" font-weight="normal" fill="#262626">WT</text>
<text x="348" y="687" font-size="8.3" text-anchor="middle" fill="#262626">p66shc<tspan font-size="7.3" dy="-2.57">-/-</tspan></text>
<text x="392.9" y="687" font-size="8" text-anchor="middle" font-weight="normal" fill="#262626">WT</text>
<text x="420.7" y="687" font-size="8.3" text-anchor="middle" fill="#262626">p66shc<tspan font-size="7.3" dy="-2.57">-/-</tspan></text>
<line x1="384" y1="692.4" x2="431.5" y2="692.4" stroke="#262626" stroke-width="1.35"/>
<text transform="translate(407.75,702) scale(1,1.08)" font-size="8.3" text-anchor="middle" font-weight="normal" fill="#262626">EXERCISE</text>
<line x1="505.7" y1="521" x2="505.7" y2="675.6" stroke="#262626" stroke-width="1.35"/>
<line x1="501.7" y1="675.3" x2="654.3" y2="675.3" stroke="#2e2e2e" stroke-width="1.35"/>
<line x1="501.7" y1="675" x2="505.7" y2="675" stroke="#262626" stroke-width="1.35"/>
<text transform="translate(494.1,676) scale(1,1.1)" font-size="9.3" text-anchor="middle" font-weight="normal" fill="#262626">0</text>
<line x1="501.7" y1="655.83" x2="505.7" y2="655.83" stroke="#262626" stroke-width="1.35"/>
<text transform="translate(494.1,656.83) scale(1,1.1)" font-size="9.3" text-anchor="middle" font-weight="normal" fill="#262626">0.2</text>
<line x1="501.7" y1="636.65" x2="505.7" y2="636.65" stroke="#262626" stroke-width="1.35"/>
<text transform="translate(494.1,637.65) scale(1,1.1)" font-size="9.3" text-anchor="middle" font-weight="normal" fill="#262626">0.4</text>
<line x1="501.7" y1="617.48" x2="505.7" y2="617.48" stroke="#262626" stroke-width="1.35"/>
<text transform="translate(494.1,618.48) scale(1,1.1)" font-size="9.3" text-anchor="middle" font-weight="normal" fill="#262626">0.6</text>
<line x1="501.7" y1="598.3" x2="505.7" y2="598.3" stroke="#262626" stroke-width="1.35"/>
<text transform="translate(494.1,599.3) scale(1,1.1)" font-size="9.3" text-anchor="middle" font-weight="normal" fill="#262626">0.8</text>
<line x1="501.7" y1="579.12" x2="505.7" y2="579.12" stroke="#262626" stroke-width="1.35"/>
<text transform="translate(494.1,580.12) scale(1,1.1)" font-size="9.3" text-anchor="middle" font-weight="normal" fill="#262626">1</text>
<line x1="501.7" y1="559.95" x2="505.7" y2="559.95" stroke="#262626" stroke-width="1.35"/>
<text transform="translate(494.1,560.95) scale(1,1.1)" font-size="9.3" text-anchor="middle" font-weight="normal" fill="#262626">1.2</text>
<line x1="501.7" y1="540.77" x2="505.7" y2="540.77" stroke="#262626" stroke-width="1.35"/>
<text transform="translate(494.1,541.77) scale(1,1.1)" font-size="9.3" text-anchor="middle" font-weight="normal" fill="#262626">1.4</text>
<line x1="501.7" y1="521.6" x2="505.7" y2="521.6" stroke="#262626" stroke-width="1.35"/>
<text transform="translate(494.1,522.6) scale(1,1.1)" font-size="9.3" text-anchor="middle" font-weight="normal" fill="#262626">1.6</text>
<rect x="518.67" y="579.8" width="19.65" height="95.2" fill="#242424" stroke="#202020" stroke-width="1.35"/>
<rect x="545.07" y="600.89" width="19.65" height="74.11" fill="#ffffff" stroke="#202020" stroke-width="1.35"/>
<rect x="591.67" y="570.21" width="19.65" height="104.79" fill="#5b5b5b" stroke="#202020" stroke-width="1.35"/>
<rect x="617.88" y="554.2" width="19.65" height="120.8" fill="#d3d3d3" stroke="#202020" stroke-width="1.35"/>
<line x1="528.5" y1="561.87" x2="528.5" y2="579.12" stroke="#262626" stroke-width="1.35"/>
<line x1="524.9" y1="561.87" x2="532.1" y2="561.87" stroke="#262626" stroke-width="1.35"/>
<line x1="554.9" y1="572.41" x2="554.9" y2="628.98" stroke="#262626" stroke-width="1.35"/>
<line x1="551.3" y1="572.41" x2="558.5" y2="572.41" stroke="#262626" stroke-width="1.35"/>
<line x1="551.3" y1="628.98" x2="558.5" y2="628.98" stroke="#262626" stroke-width="1.35"/>
<line x1="601.5" y1="553.24" x2="601.5" y2="585.84" stroke="#262626" stroke-width="1.35"/>
<line x1="597.9" y1="553.24" x2="605.1" y2="553.24" stroke="#262626" stroke-width="1.35"/>
<line x1="597.9" y1="585.84" x2="605.1" y2="585.84" stroke="#262626" stroke-width="1.35"/>
<line x1="627.7" y1="539.82" x2="627.7" y2="566.66" stroke="#262626" stroke-width="1.35"/>
<line x1="624.1" y1="539.82" x2="631.3" y2="539.82" stroke="#262626" stroke-width="1.35"/>
<line x1="624.1" y1="566.66" x2="631.3" y2="566.66" stroke="#262626" stroke-width="1.35"/>
<text x="528.5" y="684.2" font-size="8" text-anchor="middle" font-weight="normal" fill="#262626">WT</text>
<text x="555.4" y="684.2" font-size="8.3" text-anchor="middle" fill="#262626">p66shc<tspan font-size="7.3" dy="-2.57">-/-</tspan></text>
<text x="601.5" y="684.2" font-size="8" text-anchor="middle" font-weight="normal" fill="#262626">WT</text>
<text x="628.2" y="684.2" font-size="8.3" text-anchor="middle" fill="#262626">p66shc<tspan font-size="7.3" dy="-2.57">-/-</tspan></text>
<line x1="591.3" y1="690" x2="638.7" y2="690" stroke="#262626" stroke-width="1.35"/>
<text transform="translate(615,699) scale(1,1.08)" font-size="8.3" text-anchor="middle" font-weight="normal" fill="#262626">EXERCISE</text>
<line x1="196.8" y1="745" x2="196.8" y2="899.6" stroke="#262626" stroke-width="1.35"/>
<line x1="192.8" y1="899.3" x2="344" y2="899.3" stroke="#2e2e2e" stroke-width="1.35"/>
<line x1="192.8" y1="899" x2="196.8" y2="899" stroke="#262626" stroke-width="1.35"/>
<text transform="translate(184.3,900) scale(1,1.1)" font-size="9.3" text-anchor="middle" font-weight="normal" fill="#262626">0</text>
<line x1="192.8" y1="879.83" x2="196.8" y2="879.83" stroke="#262626" stroke-width="1.35"/>
<text transform="translate(184.3,880.83) scale(1,1.1)" font-size="9.3" text-anchor="middle" font-weight="normal" fill="#262626">0.2</text>
<line x1="192.8" y1="860.65" x2="196.8" y2="860.65" stroke="#262626" stroke-width="1.35"/>
<text transform="translate(184.3,861.65) scale(1,1.1)" font-size="9.3" text-anchor="middle" font-weight="normal" fill="#262626">0.4</text>
<line x1="192.8" y1="841.48" x2="196.8" y2="841.48" stroke="#262626" stroke-width="1.35"/>
<text transform="translate(184.3,842.48) scale(1,1.1)" font-size="9.3" text-anchor="middle" font-weight="normal" fill="#262626">0.6</text>
<line x1="192.8" y1="822.3" x2="196.8" y2="822.3" stroke="#262626" stroke-width="1.35"/>
<text transform="translate(184.3,823.3) scale(1,1.1)" font-size="9.3" text-anchor="middle" font-weight="normal" fill="#262626">0.8</text>
<line x1="192.8" y1="803.12" x2="196.8" y2="803.12" stroke="#262626" stroke-width="1.35"/>
<text transform="translate(184.3,804.12) scale(1,1.1)" font-size="9.3" text-anchor="middle" font-weight="normal" fill="#262626">1</text>
<line x1="192.8" y1="783.95" x2="196.8" y2="783.95" stroke="#262626" stroke-width="1.35"/>
<text transform="translate(184.3,784.95) scale(1,1.1)" font-size="9.3" text-anchor="middle" font-weight="normal" fill="#262626">1.2</text>
<line x1="192.8" y1="764.77" x2="196.8" y2="764.77" stroke="#262626" stroke-width="1.35"/>
<text transform="translate(184.3,765.77) scale(1,1.1)" font-size="9.3" text-anchor="middle" font-weight="normal" fill="#262626">1.4</text>
<line x1="192.8" y1="745.6" x2="196.8" y2="745.6" stroke="#262626" stroke-width="1.35"/>
<text transform="translate(184.3,746.6) scale(1,1.1)" font-size="9.3" text-anchor="middle" font-weight="normal" fill="#262626">1.6</text>
<rect x="209.08" y="803.8" width="19.85" height="95.2" fill="#242424" stroke="#202020" stroke-width="1.35"/>
<rect x="235.08" y="795.17" width="19.85" height="103.83" fill="#ffffff" stroke="#202020" stroke-width="1.35"/>
<rect x="280.98" y="818.18" width="19.85" height="80.82" fill="#5b5b5b" stroke="#202020" stroke-width="1.35"/>
<rect x="308.28" y="799.01" width="19.85" height="99.99" fill="#d3d3d3" stroke="#202020" stroke-width="1.35"/>
<line x1="219" y1="776.66" x2="219" y2="803.12" stroke="#262626" stroke-width="1.35"/>
<line x1="215.4" y1="776.66" x2="222.6" y2="776.66" stroke="#262626" stroke-width="1.35"/>
<line x1="245" y1="772.45" x2="245" y2="816.55" stroke="#262626" stroke-width="1.35"/>
<line x1="241.4" y1="772.45" x2="248.6" y2="772.45" stroke="#262626" stroke-width="1.35"/>
<line x1="241.4" y1="816.55" x2="248.6" y2="816.55" stroke="#262626" stroke-width="1.35"/>
<line x1="290.9" y1="800.25" x2="290.9" y2="833.81" stroke="#262626" stroke-width="1.35"/>
<line x1="287.3" y1="800.25" x2="294.5" y2="800.25" stroke="#262626" stroke-width="1.35"/>
<line x1="287.3" y1="833.81" x2="294.5" y2="833.81" stroke="#262626" stroke-width="1.35"/>
<line x1="318.2" y1="784.91" x2="318.2" y2="812.71" stroke="#262626" stroke-width="1.35"/>
<line x1="314.6" y1="784.91" x2="321.8" y2="784.91" stroke="#262626" stroke-width="1.35"/>
<line x1="314.6" y1="812.71" x2="321.8" y2="812.71" stroke="#262626" stroke-width="1.35"/>
<text x="219" y="908.4" font-size="8" text-anchor="middle" font-weight="normal" fill="#262626">WT</text>
<text x="245.5" y="908.4" font-size="8.3" text-anchor="middle" fill="#262626">p66shc<tspan font-size="7.3" dy="-2.57">-/-</tspan></text>
<text x="290.9" y="908.4" font-size="8" text-anchor="middle" font-weight="normal" fill="#262626">WT</text>
<text x="318.7" y="908.4" font-size="8.3" text-anchor="middle" fill="#262626">p66shc<tspan font-size="7.3" dy="-2.57">-/-</tspan></text>
<line x1="282.8" y1="914" x2="330" y2="914" stroke="#262626" stroke-width="1.35"/>
<text transform="translate(306.4,924) scale(1,1.08)" font-size="8.3" text-anchor="middle" font-weight="normal" fill="#262626">EXERCISE</text>
<line x1="413" y1="746" x2="413" y2="900.2" stroke="#262626" stroke-width="1.35"/>
<line x1="409" y1="899.9" x2="559.6" y2="899.9" stroke="#2e2e2e" stroke-width="1.35"/>
<line x1="409" y1="899.6" x2="413" y2="899.6" stroke="#262626" stroke-width="1.35"/>
<text transform="translate(398.4,900.6) scale(1,1.1)" font-size="9.3" text-anchor="middle" font-weight="normal" fill="#262626">0</text>
<line x1="409" y1="880.48" x2="413" y2="880.48" stroke="#262626" stroke-width="1.35"/>
<text transform="translate(398.4,881.48) scale(1,1.1)" font-size="9.3" text-anchor="middle" font-weight="normal" fill="#262626">0.2</text>
<line x1="409" y1="861.35" x2="413" y2="861.35" stroke="#262626" stroke-width="1.35"/>
<text transform="translate(398.4,862.35) scale(1,1.1)" font-size="9.3" text-anchor="middle" font-weight="normal" fill="#262626">0.4</text>
<line x1="409" y1="842.23" x2="413" y2="842.23" stroke="#262626" stroke-width="1.35"/>
<text transform="translate(398.4,843.23) scale(1,1.1)" font-size="9.3" text-anchor="middle" font-weight="normal" fill="#262626">0.6</text>
<line x1="409" y1="823.1" x2="413" y2="823.1" stroke="#262626" stroke-width="1.35"/>
<text transform="translate(398.4,824.1) scale(1,1.1)" font-size="9.3" text-anchor="middle" font-weight="normal" fill="#262626">0.8</text>
<line x1="409" y1="803.98" x2="413" y2="803.98" stroke="#262626" stroke-width="1.35"/>
<text transform="translate(398.4,804.98) scale(1,1.1)" font-size="9.3" text-anchor="middle" font-weight="normal" fill="#262626">1</text>
<line x1="409" y1="784.85" x2="413" y2="784.85" stroke="#262626" stroke-width="1.35"/>
<text transform="translate(398.4,785.85) scale(1,1.1)" font-size="9.3" text-anchor="middle" font-weight="normal" fill="#262626">1.2</text>
<line x1="409" y1="765.73" x2="413" y2="765.73" stroke="#262626" stroke-width="1.35"/>
<text transform="translate(398.4,766.73) scale(1,1.1)" font-size="9.3" text-anchor="middle" font-weight="normal" fill="#262626">1.4</text>
<line x1="409" y1="746.6" x2="413" y2="746.6" stroke="#262626" stroke-width="1.35"/>
<text transform="translate(398.4,747.6) scale(1,1.1)" font-size="9.3" text-anchor="middle" font-weight="normal" fill="#262626">1.6</text>
<rect x="425.88" y="804.65" width="19.65" height="94.95" fill="#242424" stroke="#202020" stroke-width="1.35"/>
<rect x="452.88" y="787.44" width="19.65" height="112.16" fill="#ffffff" stroke="#202020" stroke-width="1.35"/>
<rect x="497.68" y="800.82" width="19.65" height="98.78" fill="#5b5b5b" stroke="#202020" stroke-width="1.35"/>
<rect x="524.88" y="820.91" width="19.65" height="78.69" fill="#d3d3d3" stroke="#202020" stroke-width="1.35"/>
<line x1="435.7" y1="787.72" x2="435.7" y2="803.98" stroke="#262626" stroke-width="1.35"/>
<line x1="432.1" y1="787.72" x2="439.3" y2="787.72" stroke="#262626" stroke-width="1.35"/>
<line x1="462.7" y1="765.73" x2="462.7" y2="807.8" stroke="#262626" stroke-width="1.35"/>
<line x1="459.1" y1="765.73" x2="466.3" y2="765.73" stroke="#262626" stroke-width="1.35"/>
<line x1="459.1" y1="807.8" x2="466.3" y2="807.8" stroke="#262626" stroke-width="1.35"/>
<line x1="507.5" y1="785.81" x2="507.5" y2="815.45" stroke="#262626" stroke-width="1.35"/>
<line x1="503.9" y1="785.81" x2="511.1" y2="785.81" stroke="#262626" stroke-width="1.35"/>
<line x1="503.9" y1="815.45" x2="511.1" y2="815.45" stroke="#262626" stroke-width="1.35"/>
<line x1="534.7" y1="817.36" x2="534.7" y2="823.1" stroke="#262626" stroke-width="1.35"/>
<line x1="531.1" y1="817.36" x2="538.3" y2="817.36" stroke="#262626" stroke-width="1.35"/>
<line x1="531.1" y1="823.1" x2="538.3" y2="823.1" stroke="#262626" stroke-width="1.35"/>
<text x="433.9" y="909.6" font-size="8" text-anchor="middle" font-weight="normal" fill="#262626">WT</text>
<text x="461" y="909.6" font-size="8.3" text-anchor="middle" fill="#262626">p66shc<tspan font-size="7.3" dy="-2.57">-/-</tspan></text>
<text x="507.2" y="909.6" font-size="8" text-anchor="middle" font-weight="normal" fill="#262626">WT</text>
<text x="533.7" y="909.6" font-size="8.3" text-anchor="middle" fill="#262626">p66shc<tspan font-size="7.3" dy="-2.57">-/-</tspan></text>
<line x1="498" y1="915.8" x2="545" y2="915.8" stroke="#262626" stroke-width="1.35"/>
<text transform="translate(521.5,925) scale(1,1.08)" font-size="8.3" text-anchor="middle" font-weight="normal" fill="#262626">EXERCISE</text>
<text transform="translate(288.1,101.3) rotate(-90)" font-size="9.6" text-anchor="middle" fill="#262626">LC3 II/actin</text>
<text transform="translate(487.2,102.9) rotate(-90)" font-size="9.6" text-anchor="middle" fill="#262626">Beclin/actin</text>
<text transform="translate(53.1,334.1) rotate(-90)" font-size="10" text-anchor="middle" fill="#262626">BNIP3 mRNA level</text>
<text transform="translate(60.8,332.9) rotate(-90)" font-size="8.45" text-anchor="middle" fill="#262626">(normalized on GAPDH mRNA level)</text>
<text transform="translate(269.3,334.5) rotate(-90)" font-size="10" text-anchor="middle" fill="#262626">BNIP3l mRNA level</text>
<text transform="translate(277,333.3) rotate(-90)" font-size="8.45" text-anchor="middle" fill="#262626">(normalized on GAPDH mRNA level)</text>
<text transform="translate(477.1,333.9) rotate(-90)" font-size="10" text-anchor="middle" fill="#262626">LC3 mRNA level</text>
<text transform="translate(483.9,332.7) rotate(-90)" font-size="8.45" text-anchor="middle" fill="#262626">(normalized on GAPDH mRNA level)</text>
<text transform="translate(53.2,599.7) rotate(-90)" font-size="10" text-anchor="middle" fill="#262626">ATF3 mRNA level</text>
<text transform="translate(60,599.5) rotate(-90)" font-size="8.45" text-anchor="middle" fill="#262626">(normalized on GAPDH mRNA level)</text>
<text transform="translate(268.9,600.4) rotate(-90)" font-size="10" text-anchor="middle" fill="#262626">SOD1 mRNA level</text>
<text transform="translate(276.6,599.2) rotate(-90)" font-size="8.45" text-anchor="middle" fill="#262626">(normalized on GAPDH mRNA level)</text>
<text transform="translate(475.9,599.5) rotate(-90)" font-size="10" text-anchor="middle" fill="#262626">SOD2 mRNA level</text>
<text transform="translate(483.8,598.3) rotate(-90)" font-size="8.45" text-anchor="middle" fill="#262626">(normalized on GAPDH mRNA level)</text>
<text transform="translate(164.9,821.3) rotate(-90)" font-size="10" text-anchor="middle" fill="#262626">Catalase mRNA level</text>
<text transform="translate(173.4,821.1) rotate(-90)" font-size="8.45" text-anchor="middle" fill="#262626">(normalized on GAPDH mRNA level)</text>
<text transform="translate(379.1,823.1) rotate(-90)" font-size="10" text-anchor="middle" fill="#262626">M-GPX1 mRNA level</text>
<text transform="translate(386,823.7) rotate(-90)" font-size="8.45" text-anchor="middle" fill="#262626">(normalized on GAPDH mRNA level)</text>
<text x="19.6" y="10" font-size="12" text-anchor="start" font-weight="bold" fill="#111">A</text>
<text transform="translate(50,239) scale(0.95,1)" font-size="12" text-anchor="start" font-weight="bold" fill="#111">B</text>
<text transform="translate(266.6,238.6) scale(0.95,1)" font-size="12" text-anchor="start" font-weight="bold" fill="#111">C</text>
<text transform="translate(475.2,239) scale(0.95,1)" font-size="12" text-anchor="start" font-weight="bold" fill="#111">D</text>
<text transform="translate(50.6,457.6) scale(0.95,1)" font-size="12" text-anchor="start" font-weight="bold" fill="#111">E</text>
<text transform="translate(266.2,457.4) scale(0.95,1)" font-size="12" text-anchor="start" font-weight="bold" fill="#111">F</text>
<text transform="translate(475,457.6) scale(0.95,1)" font-size="12" text-anchor="start" font-weight="bold" fill="#111">G</text>
<text transform="translate(165.6,726) scale(0.95,1)" font-size="12" text-anchor="start" font-weight="bold" fill="#111">H</text>
<text transform="translate(380.6,726) scale(0.95,1)" font-size="12" text-anchor="start" font-weight="bold" fill="#111">I</text>
<polyline points="106.4,527.6 106.4,518.4 176.8,518.4 176.8,527.6" fill="none" stroke="#333" stroke-width="1.1"/>
<polyline points="131.4,507.4 131.4,497.6 202.2,497.6 202.2,507.4" fill="none" stroke="#333" stroke-width="1.1"/>
<polyline points="176.2,488.6 176.2,479.4 201.6,479.4 201.6,488.6" fill="none" stroke="#333" stroke-width="1.1"/>
<polygon points="136.6,509.1 137.26,510.69 138.98,510.83 137.67,511.95 138.07,513.62 136.6,512.73 135.13,513.62 135.53,511.95 134.22,510.83 135.94,510.69" fill="#333"/>
<polygon points="141.2,509.1 141.86,510.69 143.58,510.83 142.27,511.95 142.67,513.62 141.2,512.73 139.73,513.62 140.13,511.95 138.82,510.83 140.54,510.69" fill="#333"/>
<polygon points="145.8,509.1 146.46,510.69 148.18,510.83 146.87,511.95 147.27,513.62 145.8,512.73 144.33,513.62 144.73,511.95 143.42,510.83 145.14,510.69" fill="#333"/>
<polygon points="163.8,489.9 164.46,491.49 166.18,491.63 164.87,492.75 165.27,494.42 163.8,493.52 162.33,494.42 162.73,492.75 161.42,491.63 163.14,491.49" fill="#333"/>
<polygon points="168.4,489.9 169.06,491.49 170.78,491.63 169.47,492.75 169.87,494.42 168.4,493.52 166.93,494.42 167.33,492.75 166.02,491.63 167.74,491.49" fill="#333"/>
<polygon points="186.8,471.7 187.46,473.29 189.18,473.43 187.87,474.55 188.27,476.22 186.8,475.32 185.33,476.22 185.73,474.55 184.42,473.43 186.14,473.29" fill="#333"/>
<polygon points="191.4,471.7 192.06,473.29 193.78,473.43 192.47,474.55 192.87,476.22 191.4,475.32 189.93,476.22 190.33,474.55 189.02,473.43 190.74,473.29" fill="#333"/>
</g>
</svg>
</body></html>
